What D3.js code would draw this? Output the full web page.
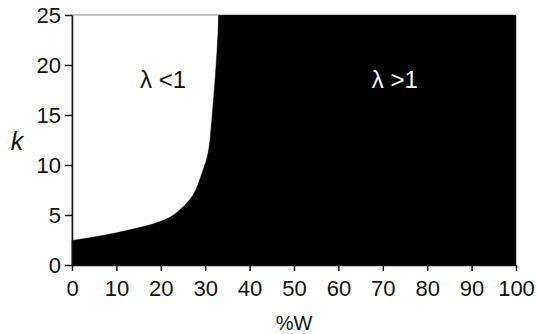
<!DOCTYPE html>
<html><head><meta charset="utf-8">
<script src="https://cdn.jsdelivr.net/npm/d3@7"></script>
<style>
html,body{margin:0;padding:0;background:#fff;}
svg{display:block;font-family:"Liberation Sans",Arial,sans-serif;}
</style></head>
<body>
<svg id="c" width="537" height="334"></svg>
<script>
// boundary between λ<1 and λ>1 : %W vs k
const boundaryW = [0, 5, 10, 15, 20, 22.5, 24.3, 26.6, 28, 28.8, 30, 30.5, 31, 31.5, 32.2, 32.7, 33.1];
const boundaryK = [2.45, 2.8, 3.2, 3.7, 4.3, 4.85, 5.5, 6.5, 7.5, 8.6, 10.1, 10.8, 12, 14.5, 18.3, 21.5, 25];
const xTicks = [0,10,20,30,40,50,60,70,80,90,100];
const yTicks = [0,5,10,15,20,25];
const regionLabels = ["λ <1", "λ >1"];
const regionPos = [[20.5, 20], [72.7, 20]]; // data coords of label centers

const svg = d3.select("#c");
const x = d3.scaleLinear().domain([0,100]).range([72,516]);
const y = d3.scaleLinear().domain([0,25]).range([265,15]);

// frame
svg.append("rect").attr("x",72).attr("y",15).attr("width",444).attr("height",250)
  .attr("fill","#fff").attr("stroke","#888").attr("stroke-width",1);

const pts = boundaryW.map((w,i)=>({w, k: boundaryK[i]}));
const area = d3.area().x(d=>x(d.w)).y0(y(0)).y1(d=>y(d.k)).curve(d3.curveBasis);
svg.append("path").datum(pts).attr("d",area).attr("fill","#000").attr("stroke","#000").attr("stroke-width",0.5);
// region beyond the boundary: λ>1 everywhere
const lastW = boundaryW[boundaryW.length-1];
svg.append("rect").attr("x",x(lastW)-0.5).attr("y",y(25))
  .attr("width",x(100)-x(lastW)+0.5).attr("height",y(0)-y(25)).attr("fill","#000");

// axes
const gx = svg.append("g").attr("transform",`translate(0,${y(0)})`)
  .call(d3.axisBottom(x).tickValues(xTicks).tickSize(6).tickPadding(9).tickSizeOuter(0));
const gy = svg.append("g").attr("transform",`translate(${x(0)},0)`)
  .call(d3.axisLeft(y).tickValues(yTicks).tickSize(7).tickPadding(4).tickSizeOuter(0));
[gx,gy].forEach(g=>{
  g.selectAll("text").attr("font-size",22).attr("fill","#111").attr("font-family","Liberation Sans, Arial, sans-serif");
  g.selectAll("line").attr("stroke","#111").attr("stroke-width",1.5);
  g.select(".domain").attr("stroke","#111").attr("stroke-width",1.5);
});
gy.selectAll("text").attr("dy","0.36em");

// axis titles
svg.append("text").attr("x",294).attr("y",330).attr("text-anchor","middle")
  .attr("font-size",20).attr("fill","#111").text("%W");
svg.append("text").attr("x",17).attr("y",150).attr("text-anchor","middle")
  .attr("font-size",25).attr("font-style","italic").attr("fill","#111").text("k");

// region labels
regionLabels.forEach((t,i)=>{
  svg.append("text").attr("x",x(regionPos[i][0])).attr("y",y(regionPos[i][1])+23)
    .attr("text-anchor","middle").attr("font-size",24)
    .attr("fill", i===0 ? "#111" : "#fff").text(t);
});
</script>
</body></html>
